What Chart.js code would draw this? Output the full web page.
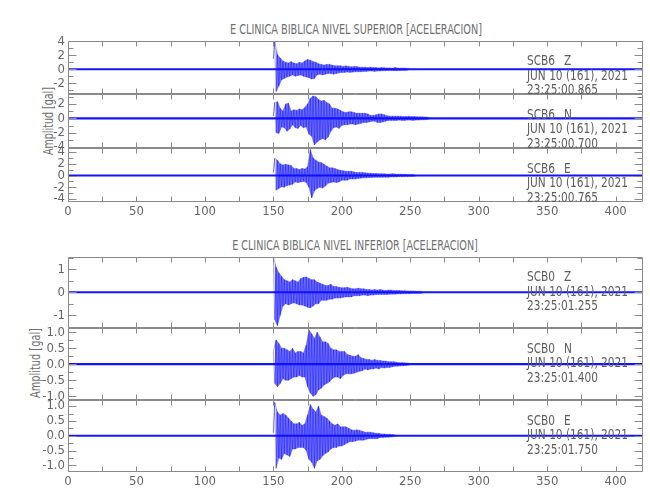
<!DOCTYPE html>
<html>
<head>
<meta charset="utf-8">
<script src="https://cdn.jsdelivr.net/npm/chart.js@4.4.0/dist/chart.umd.min.js"></script>
<style>
  body { margin: 0; background: #fff; width: 650px; height: 500px; position: relative; overflow: hidden;
         font-family: "DejaVu Sans Condensed", "DejaVu Sans", sans-serif; color: #707070; }
  canvas { position: absolute; left: 0; }
  .ttl, .yt { position: absolute; font-size: 14px; line-height: 16px; white-space: pre; }
</style>
</head>
<body>
<div class="ttl" data-w="252" style="left:356px;top:21px">E CLINICA BIBLICA NIVEL SUPERIOR [ACELERACION]</div>
<div class="ttl" data-w="246" style="left:355px;top:237px">E CLINICA BIBLICA NIVEL INFERIOR [ACELERACION]</div>
<div class="yt" data-w="68" style="left:48px;top:121px">Amplitud [gal]</div>
<div class="yt" data-w="70" style="left:35px;top:363px">Amplitud [gal]</div>
<script>
// time axis (seconds)
const xMin = 0, xMax = 420, xStep = 25;
const t0 = 150;   // first sample of the strong-motion arrays, 1 s apart

// quiet-trace band half width (gal)
const noiseTop = [0.15, 0.15, 0.18];
const noiseBot = [0.045, 0.035, 0.036];

// SCB6 (nivel superior) peak values, one per second from t0
const scb6Z = [1.5, 3.9, -3.2, 2.1, -2.4, 1.6, -1.5, 1.2, -1.3, 1.0,
  -1.1, 0.9, -1.0, 1.1, -0.8, 0.9, -1.0, 0.8, -0.9, 1.0,
  -0.8, 0.9, -1.0, 1.2, -1.1, 1.4, -1.2, 1.3, -1.4, 1.1,
  -1.3, 1.0, -0.8, 0.8, -0.7, 0.7, -0.8, 0.6, -0.7, 0.7,
  -0.6, 0.7, -0.6, 0.6, -0.7, 0.5, -0.6, 0.5, -0.5, 0.5,
  -0.45, 0.4, -0.45, 0.5, -0.4, 0.4, -0.45, 0.35, -0.4, 0.4,
  -0.35, 0.4, -0.35, 0.3, -0.35, 0.3, -0.3, 0.3, -0.3, 0.25,
  -0.25, 0.3, -0.25, 0.25, -0.3, 0.25, -0.25, 0.2, -0.25, 0.25,
  -0.2, 0.22, -0.2, 0.2, -0.18, 0.2, -0.18, 0.18, -0.2, 0.25,
  -0.2, 0.18, -0.18, 0.16, -0.16, 0.18, -0.16, 0.15, -0.15, 0.15];
const scb6N = [0.3, 2.2, -2.0, 2.3, -2.1, 1.4, -1.2, 1.0, -1.3, 2.0,
  -1.8, 2.1, -1.5, 1.0, -0.9, 1.2, -1.3, 1.1, -1.4, 1.3,
  -1.0, 1.2, -1.3, 1.5, -1.2, 2.0, -2.2, 2.8, -2.5, 3.1,
  -3.7, 3.0, -3.3, 2.6, -3.0, 2.4, -2.8, 2.5, -3.0, 2.2,
  -2.6, 2.0, -1.8, 1.4, -1.3, 1.4, -1.2, 1.3, -1.4, 1.1,
  -1.0, 0.9, -0.9, 0.8, -0.9, 0.9, -0.8, 0.9, -0.8, 0.8,
  -0.9, 0.7, -0.8, 0.7, -0.7, 0.7, -0.6, 0.7, -0.6, 0.6,
  -0.5, 0.4, -0.4, 0.4, -0.4, 0.5, -0.6, 0.6, -0.6, 0.6,
  -0.5, 0.5, -0.4, 0.35, -0.3, 0.3, -0.3, 0.3, -0.3, 0.3,
  -0.3, 0.3, -0.25, 0.3, -0.3, 0.25, -0.3, 0.25, -0.25, 0.3,
  -0.25, 0.25, -0.3, 0.25, -0.25, 0.2, -0.25, 0.2, -0.2, 0.2,
  -0.2, 0.18, -0.16, 0.16, -0.15];
const scb6E = [0.5, 2.9, -2.5, 2.6, -2.2, 2.0, -1.9, 1.8, -2.0, 1.9,
  -1.7, 1.8, -1.6, 1.7, -1.5, 1.2, -1.1, 1.2, -1.2, 1.0,
  -1.1, 1.2, -1.0, 1.1, -1.2, 1.5, -2.0, 4.4, -3.8, 3.0,
  -2.6, 2.6, -2.2, 2.3, -2.0, 2.2, -2.1, 1.9, -1.8, 1.6,
  -1.3, 1.3, -1.2, 1.3, -1.1, 1.2, -1.2, 1.0, -1.1, 0.9,
  -0.8, 0.8, -0.8, 0.7, -0.8, 0.7, -0.6, 0.7, -0.6, 0.6,
  -0.6, 0.5, -0.5, 0.5, -0.45, 0.5, -0.4, 0.45, -0.4, 0.4,
  -0.35, 0.4, -0.35, 0.35, -0.3, 0.35, -0.3, 0.3, -0.3, 0.3,
  -0.3, 0.3, -0.3, 0.25, -0.3, 0.25, -0.25, 0.3, -0.25, 0.25,
  -0.25, 0.22, -0.2, 0.22, -0.2, 0.2, -0.18, 0.2, -0.18, 0.18,
  -0.16, 0.18, -0.16, 0.15, -0.15];

// SCB0 (nivel inferior)
const scb0Z = [1.55, -1.2, 1.1, -1.45, 0.85, -1.0, 0.7, -0.6, 0.55, -0.5,
  0.5, -0.55, 0.45, -0.5, 0.55, -0.45, 0.5, -0.5, 0.45, -0.55,
  0.6, -0.55, 0.65, -0.6, 0.67, -0.65, 0.6, -0.68, 0.55, -0.6,
  0.55, -0.5, 0.45, -0.5, 0.4, -0.35, 0.35, -0.35, 0.3, -0.35,
  0.3, -0.3, 0.35, -0.3, 0.25, -0.25, 0.25, -0.25, 0.22, -0.25,
  0.2, -0.22, 0.2, -0.2, 0.22, -0.2, 0.18, -0.2, 0.15, -0.15,
  0.15, -0.15, 0.18, -0.15, 0.15, -0.12, 0.15, -0.12, 0.12, -0.15,
  0.12, -0.12, 0.1, -0.12, 0.12, -0.1, 0.1, -0.1, 0.12, -0.1,
  0.1, -0.1, 0.08, -0.1, 0.1, -0.08, 0.1, -0.08, 0.08, -0.08,
  0.08, -0.07, 0.08, -0.07, 0.07, -0.06, 0.07, -0.06, 0.06, -0.06,
  0.06, -0.05, 0.06, -0.05, 0.05, -0.05, 0.05, -0.05, 0.05, -0.045];
const scb0N = [0.4, -0.6, 0.76, -0.7, 0.65, -0.6, 0.5, -0.45, 0.5, -0.5,
  0.45, -0.5, 0.4, -0.45, 0.5, -0.4, 0.35, -0.4, 0.4, -0.35,
  0.4, -0.4, 0.35, -0.4, 0.6, -0.7, 1.07, -0.9, 0.95, -1.0,
  0.8, -0.95, 1.0, -0.8, 0.85, -0.75, 0.7, -0.65, 0.7, -0.6,
  0.65, -0.55, 0.5, -0.45, 0.45, -0.4, 0.45, -0.4, 0.4, -0.45,
  0.4, -0.35, 0.4, -0.3, 0.3, -0.3, 0.28, -0.3, 0.25, -0.28,
  0.25, -0.25, 0.3, -0.22, 0.2, -0.2, 0.18, -0.15, 0.15, -0.18,
  0.15, -0.15, 0.12, -0.15, 0.15, -0.12, 0.12, -0.15, 0.12, -0.1,
  0.1, -0.12, 0.1, -0.1, 0.08, -0.1, 0.08, -0.08, 0.08, -0.06,
  0.06, -0.06, 0.05, -0.05, 0.05, -0.045, 0.045, -0.04, 0.04, -0.035];
const scb0E = [0.1, 1.13, -1.1, 0.8, -0.75, 0.7, -0.8, 0.75, -0.6, 0.7,
  -0.65, 0.6, -0.7, 0.5, -0.45, 0.4, -0.45, 0.4, -0.4, 0.45,
  -0.4, 0.35, -0.4, 0.4, -0.5, 0.7, -0.8, 1.05, -0.9, 0.9,
  -1.1, 0.8, -0.85, 1.0, -0.8, 0.7, -0.68, 0.65, -0.6, 0.6,
  -0.55, 0.5, -0.45, 0.4, -0.4, 0.35, -0.4, 0.4, -0.35, 0.3,
  -0.35, 0.3, -0.3, 0.3, -0.25, 0.25, -0.2, 0.2, -0.2, 0.18,
  -0.18, 0.2, -0.15, 0.18, -0.15, 0.15, -0.15, 0.12, -0.12, 0.12,
  -0.1, 0.12, -0.1, 0.1, -0.1, 0.08, -0.1, 0.08, -0.06, 0.06,
  -0.06, 0.06, -0.05, 0.05, -0.05, 0.045, -0.045, 0.04, -0.04, 0.036];

// y ranges of each panel
const yMins = [-3.53, -4.125, -4.49, -1.552, -1.115, -1.226];
const yMaxs = [4.04, 3.375, 4.66, 1.535, 1.13, 1.206];
const ySteps = [1, 1, 1, 0.5, 0.25, 0.25];
const yLabelEvery = [2, 2, 2, 1, 0.5, 0.5];

const stations = ['SCB6', 'SCB6', 'SCB6', 'SCB0', 'SCB0', 'SCB0'];
const comps = ['Z', 'N', 'E', 'Z', 'N', 'E'];
const dateLine = 'JUN 10 (161), 2021';
const startTimes = ['23:25:00.865', '23:25:00.700', '23:25:00.765', '23:25:01.255', '23:25:01.400', '23:25:01.750'];

const traces = [scb6Z, scb6N, scb6E, scb0Z, scb0N, scb0E];
const noise = noiseTop.concat(noiseBot);

// panel placement (page px)
const panelTop = [41, 94, 148, 257, 328, 400];
const panelBot = [94, 148, 202, 328, 400, 472];
const annotY = [61.7, 115, 169, 277.7, 349, 421];
const FAM = '"DejaVu Sans Condensed", "DejaVu Sans", sans-serif';
const GREY = '#666';

// squeeze html titles to the narrow lettering of the original
document.querySelectorAll('[data-w]').forEach(el => {
  const s = ((+el.dataset.w) / el.offsetWidth).toFixed(3);
  el.style.transform = el.classList.contains('yt')
    ? 'translate(-50%,-50%) rotate(-90deg) scaleX(' + s + ')'
    : 'translateX(-50%) scaleX(' + s + ')';
});

const frame = {
  id: 'frame',
  afterDatasetsDraw(chart, args, o) {
    const {ctx, chartArea: a} = chart;
    const x = chart.scales.x, y = chart.scales.y;
    const L = Math.round(a.left) + 0.5, R = Math.round(a.right) - 0.5;
    const T = Math.round(a.top) + 0.5, B = Math.round(a.bottom) - 0.5;
    ctx.save();
    ctx.strokeStyle = '#8a8a8a';
    ctx.lineWidth = 1;
    ctx.beginPath();
    ctx.rect(L, T, R - L, B - T);
    x.ticks.forEach(t => {
      const px = Math.round(x.getPixelForValue(t.value)) + 0.5;
      ctx.moveTo(px, T); ctx.lineTo(px, T + 5);
      ctx.moveTo(px, B); ctx.lineTo(px, B - 5);
    });
    y.ticks.forEach(t => {
      const py = Math.round(y.getPixelForValue(t.value)) + 0.5;
      const len = t.label ? 8 : 5;
      ctx.moveTo(L, py); ctx.lineTo(L + len, py);
      ctx.moveTo(R, py); ctx.lineTo(R - len, py);
    });
    ctx.stroke();
    ctx.fillStyle = '#5e5e5e';
    ctx.font = '14px ' + FAM;
    ctx.textBaseline = 'middle';
    const sx = 101 / ctx.measureText(dateLine).width;
    const put = (s, px, py) => { ctx.save(); ctx.translate(px, py); ctx.scale(sx, 1); ctx.fillText(s, 0, 0); ctx.restore(); };
    put(o.station, 527, o.y);
    put(o.comp, 564, o.y);
    put(dateLine, 527, o.y + 14.5);
    put(o.time, 527, o.y + 29);
    ctx.restore();
  }
};

function makePanel(i) {
  const hasX = (i === 2 || i === 5);
  const padTop = 12, padBot = hasX ? 2 : 12, xH = hasX ? 18 : 0;
  const cv = document.createElement('canvas');
  cv.width = 650;
  cv.height = panelBot[i] - panelTop[i] + padTop + padBot + xH;
  cv.style.top = (panelTop[i] - padTop) + 'px';
  document.body.appendChild(cv);
  const top = panelTop[i] - padTop;

  const pts = traces[i].map((v, k) => ({x: t0 + k, y: v}));
  const n = noise[i];
  const every = yLabelEvery[i];
  const dec = every < 1;

  new Chart(cv, {
    type: 'line',
    data: {
      datasets: [
        // oscillation
        {data: pts, borderColor: 'rgba(0,0,255,0.45)', borderWidth: 0.8, pointRadius: 0,
         borderJoinStyle: 'bevel', tension: 0, fill: false},
        // positive and negative peaks: envelope
        {data: pts.filter(p => p.y > 0), borderColor: 'rgba(70,70,255,0.5)', borderWidth: 0.8,
         pointRadius: 0, tension: 0, fill: false},
        {data: pts.filter(p => p.y < 0), borderColor: 'rgba(70,70,255,0.5)', borderWidth: 0.8,
         pointRadius: 0, tension: 0, fill: '-1', backgroundColor: 'rgba(25,25,255,0.62)'},
        // quiet background band
        {data: [{x: xMin, y: n}, {x: xMax, y: n}], borderWidth: 0, pointRadius: 0, fill: false},
        {data: [{x: xMin, y: -n}, {x: xMax, y: -n}], borderWidth: 0, pointRadius: 0,
         fill: '-1', backgroundColor: '#1414ff'}
      ]
    },
    options: {
      responsive: false,
      animation: false,
      events: [],
      layout: {padding: {top: padTop, bottom: padBot, left: 0, right: 7}},
      plugins: {
        legend: {display: false},
        tooltip: {enabled: false},
        frame: {station: stations[i], comp: comps[i], time: startTimes[i], y: annotY[i] - top}
      },
      scales: {
        x: {
          type: 'linear', min: xMin, max: xMax,
          grid: {display: false, drawTicks: false},
          border: {display: false},
          ticks: {
            display: hasX, stepSize: xStep, includeBounds: false, autoSkip: false, maxRotation: 0,
            padding: 2, color: GREY, font: {family: FAM, size: 13},
            callback: v => (v % 50 === 0 ? String(v) : '')
          },
          afterFit: s => { s.height = xH; }
        },
        y: {
          type: 'linear', min: yMins[i], max: yMaxs[i],
          grid: {display: false, drawTicks: false},
          border: {display: false},
          ticks: {
            stepSize: ySteps[i], includeBounds: false, autoSkip: false, padding: 3, color: GREY,
            font: {family: FAM, size: 13},
            callback: v => {
              const r = Math.abs(v / every - Math.round(v / every));
              if (r > 1e-6) return '';
              return dec ? v.toFixed(1) : String(Math.round(v));
            }
          },
          afterFit: s => { s.width = 68; }
        }
      }
    },
    plugins: [frame]
  });
}

for (let i = 0; i < 6; i++) makePanel(i);
</script>
</body>
</html>
